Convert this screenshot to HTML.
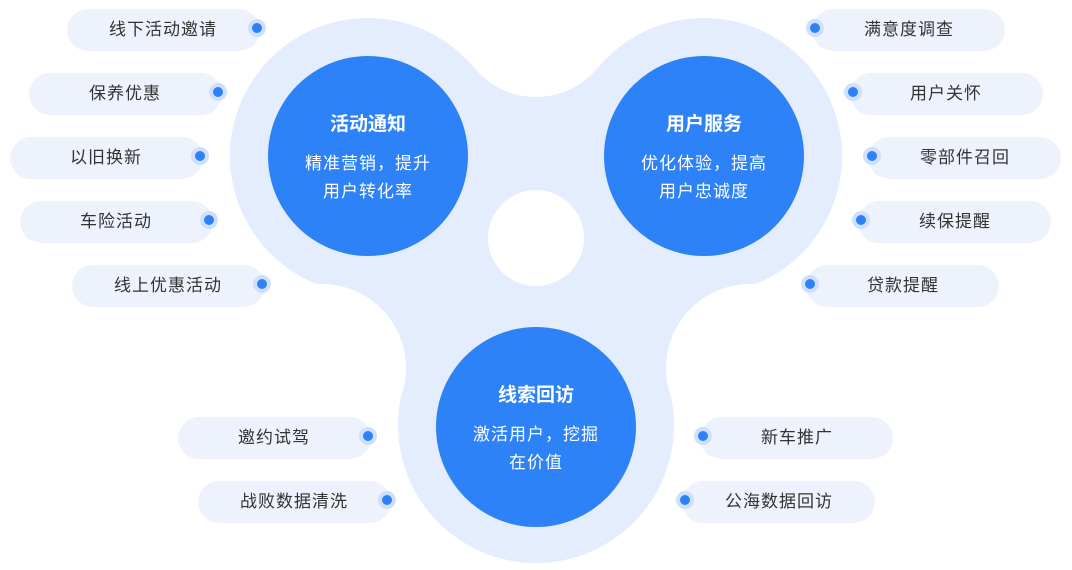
<!DOCTYPE html>
<html><head><meta charset="utf-8"><style>
html,body{margin:0;padding:0;background:#fff;}
body{width:1072px;height:565px;overflow:hidden;font-family:"Liberation Sans","Noto Sans CJK SC",sans-serif;}
</style></head><body>
<svg width="1072" height="565" viewBox="0 0 1072 565" xmlns="http://www.w3.org/2000/svg" font-family="Liberation Sans, Noto Sans CJK SC, sans-serif">
<g fill="#e3edfd">
<circle cx="368" cy="156" r="138"/>
<circle cx="704" cy="156" r="138"/>
<circle cx="536" cy="425" r="138"/>
<polygon points="368,156 474,68 598,68 704,156 732,291 670,390 536,425 402,390 340,291"/>
</g>
<g fill="#fff">
<circle cx="536" cy="17" r="80"/>
<circle cx="322" cy="368" r="84"/>
<circle cx="750" cy="368" r="84"/>
<circle cx="536" cy="238" r="48"/>
</g>
<g fill="#2e82f7">
<circle cx="368" cy="156" r="100"/>
<circle cx="704" cy="156" r="100"/>
<circle cx="536" cy="427" r="100"/>
</g>
<g fill="#fff" text-anchor="middle">
<text x="368" y="130" font-size="19" font-weight="bold">活动通知</text>
<text x="368" y="169" font-size="17" letter-spacing="1">精准营销，提升</text>
<text x="368" y="197" font-size="17" letter-spacing="1">用户转化率</text>
<text x="704" y="130" font-size="19" font-weight="bold">用户服务</text>
<text x="704" y="169" font-size="17" letter-spacing="1">优化体验，提高</text>
<text x="704" y="197" font-size="17" letter-spacing="1">用户忠诚度</text>
<text x="536" y="401" font-size="19" font-weight="bold">线索回访</text>
<text x="536" y="440" font-size="17" letter-spacing="1">激活用户，挖掘</text>
<text x="536" y="468" font-size="17" letter-spacing="1">在价值</text>
</g>
<g font-size="17" fill="#333" text-anchor="middle" letter-spacing="1">
<g><rect x="67" y="9" width="193" height="42" rx="21" fill="#edf2fd"/><text x="163" y="35">线下活动邀请</text><circle cx="257" cy="28" r="9" fill="#cfe0fc"/><circle cx="257" cy="28" r="5" fill="#2e82f7"/></g>
<g><rect x="29" y="73" width="193" height="42" rx="21" fill="#edf2fd"/><text x="125" y="99">保养优惠</text><circle cx="218" cy="92" r="9" fill="#cfe0fc"/><circle cx="218" cy="92" r="5" fill="#2e82f7"/></g>
<g><rect x="10" y="137" width="193" height="42" rx="21" fill="#edf2fd"/><text x="106" y="163">以旧换新</text><circle cx="200" cy="156" r="9" fill="#cfe0fc"/><circle cx="200" cy="156" r="5" fill="#2e82f7"/></g>
<g><rect x="20" y="201" width="193" height="42" rx="21" fill="#edf2fd"/><text x="116" y="227">车险活动</text><circle cx="209" cy="220" r="9" fill="#cfe0fc"/><circle cx="209" cy="220" r="5" fill="#2e82f7"/></g>
<g><rect x="72" y="265" width="193" height="42" rx="21" fill="#edf2fd"/><text x="168" y="291">线上优惠活动</text><circle cx="262" cy="284" r="9" fill="#cfe0fc"/><circle cx="262" cy="284" r="5" fill="#2e82f7"/></g>
<g><rect x="178" y="417" width="193" height="42" rx="21" fill="#edf2fd"/><text x="274" y="443">邀约试驾</text><circle cx="368" cy="436" r="9" fill="#cfe0fc"/><circle cx="368" cy="436" r="5" fill="#2e82f7"/></g>
<g><rect x="198" y="481" width="193" height="42" rx="21" fill="#edf2fd"/><text x="294" y="507">战败数据清洗</text><circle cx="387" cy="500" r="9" fill="#cfe0fc"/><circle cx="387" cy="500" r="5" fill="#2e82f7"/></g>
<g><rect x="812" y="9" width="193" height="42" rx="21" fill="#edf2fd"/><text x="909" y="35">满意度调查</text><circle cx="815" cy="28" r="9" fill="#cfe0fc"/><circle cx="815" cy="28" r="5" fill="#2e82f7"/></g>
<g><rect x="850" y="73" width="193" height="42" rx="21" fill="#edf2fd"/><text x="946" y="99">用户关怀</text><circle cx="853" cy="92" r="9" fill="#cfe0fc"/><circle cx="853" cy="92" r="5" fill="#2e82f7"/></g>
<g><rect x="868" y="137" width="193" height="42" rx="21" fill="#edf2fd"/><text x="965" y="163">零部件召回</text><circle cx="872" cy="156" r="9" fill="#cfe0fc"/><circle cx="872" cy="156" r="5" fill="#2e82f7"/></g>
<g><rect x="858" y="201" width="193" height="42" rx="21" fill="#edf2fd"/><text x="955" y="227">续保提醒</text><circle cx="861" cy="220" r="9" fill="#cfe0fc"/><circle cx="861" cy="220" r="5" fill="#2e82f7"/></g>
<g><rect x="806" y="265" width="193" height="42" rx="21" fill="#edf2fd"/><text x="903" y="291">贷款提醒</text><circle cx="810" cy="284" r="9" fill="#cfe0fc"/><circle cx="810" cy="284" r="5" fill="#2e82f7"/></g>
<g><rect x="700" y="417" width="193" height="42" rx="21" fill="#edf2fd"/><text x="797" y="443">新车推广</text><circle cx="703" cy="436" r="9" fill="#cfe0fc"/><circle cx="703" cy="436" r="5" fill="#2e82f7"/></g>
<g><rect x="682" y="481" width="193" height="42" rx="21" fill="#edf2fd"/><text x="779" y="507">公海数据回访</text><circle cx="685" cy="500" r="9" fill="#cfe0fc"/><circle cx="685" cy="500" r="5" fill="#2e82f7"/></g>
</g>
</svg>
</body></html>
